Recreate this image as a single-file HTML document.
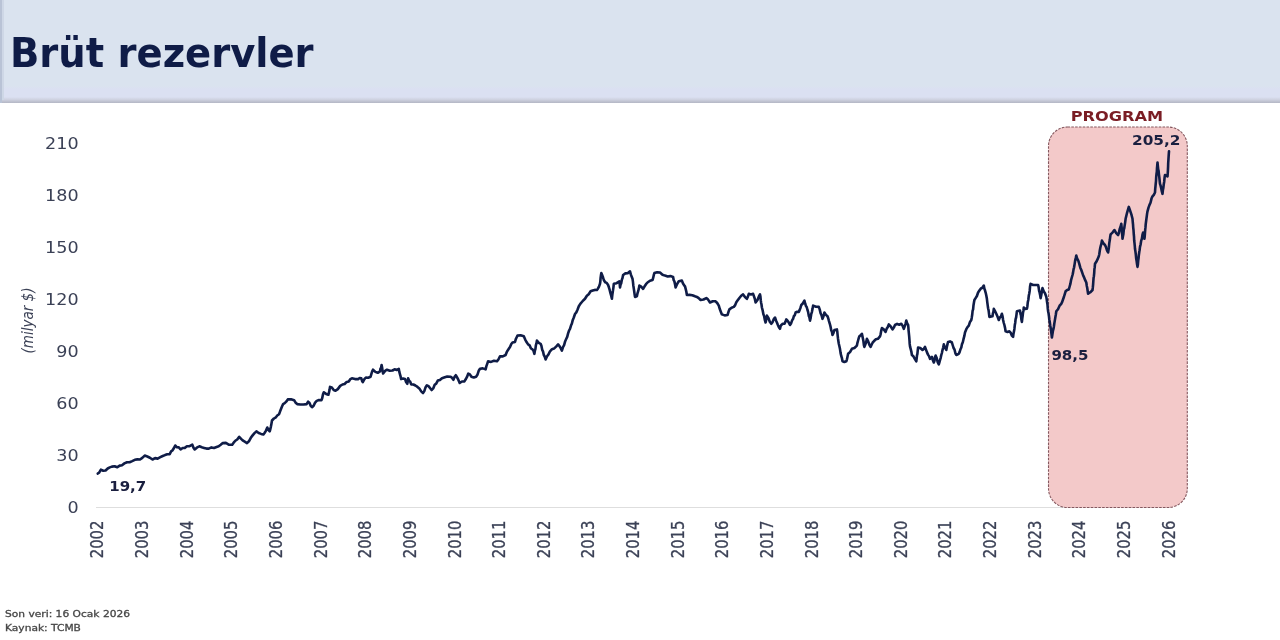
<!DOCTYPE html>
<html lang="tr">
<head>
<meta charset="utf-8">
<title>Brüt rezervler</title>
<style>
html,body{margin:0;padding:0;background:#fff;}
body{width:1280px;height:640px;overflow:hidden;position:relative;font-family:"DejaVu Sans","Liberation Sans",sans-serif;}
#hdr{position:absolute;left:0;top:0;width:1280px;height:103px;background:linear-gradient(to bottom,#dae3ef 0px,#dae3ef 86px,#dbe0f2 89px,#dbe0f2 97px,#cfd2e1 99.5px,#bfc2d0 101.5px,#b4b7c5 103px);}
#hdr:before{content:"";position:absolute;left:0;top:0;width:2px;height:103px;background:#b9c3d6;}
#hdr:after{content:"";position:absolute;left:2px;top:0;width:2px;height:100px;background:#ced7e6;}
#title{position:absolute;left:9.8px;top:22.8px;margin:0;font-weight:bold;font-size:41px;line-height:60px;color:#0f1c47;white-space:nowrap;transform-origin:0 0;transform:scaleX(0.939);letter-spacing:0px;}
svg{position:absolute;left:0;top:0;}
.yl{font-family:"DejaVu Sans","Liberation Sans",sans-serif;font-size:16.2px;fill:#3b4156;}
.xl{font-family:"DejaVu Sans","Liberation Sans",sans-serif;font-size:17.5px;fill:#3b4156;stroke:#3b4156;stroke-width:0.3px;}
.dl{font-family:"DejaVu Sans","Liberation Sans",sans-serif;font-weight:bold;font-size:14.6px;fill:#1a1f3f;}
.pg{font-family:"DejaVu Sans","Liberation Sans",sans-serif;font-weight:bold;font-size:14.6px;fill:#7a1d24;}
.ft{font-family:"DejaVu Sans","Liberation Sans",sans-serif;font-size:9px;fill:#474747;stroke:#474747;stroke-width:0.3px;}
.yt{font-family:"DejaVu Sans","Liberation Sans",sans-serif;font-style:italic;font-size:13.5px;fill:#3b4156;}
</style>
</head>
<body>
<div id="hdr"></div>
<h1 id="title">Brüt rezervler</h1>
<svg width="1280" height="640" viewBox="0 0 1280 640">
<line x1="96" y1="507.5" x2="1170" y2="507.5" stroke="#dedede" stroke-width="1.2"/>
<rect x="1048.5" y="127" width="138.8" height="380.5" rx="19" ry="19" fill="#f3c9c9" stroke="#85585f" stroke-width="1.1" stroke-dasharray="2.6 1.2"/>
<text transform="translate(78.6,513.4) scale(1.085,1)" text-anchor="end" class="yl">0</text>
<text transform="translate(78.6,461.3) scale(1.085,1)" text-anchor="end" class="yl">30</text>
<text transform="translate(78.6,409.3) scale(1.085,1)" text-anchor="end" class="yl">60</text>
<text transform="translate(78.6,357.2) scale(1.085,1)" text-anchor="end" class="yl">90</text>
<text transform="translate(78.6,305.1) scale(1.085,1)" text-anchor="end" class="yl">120</text>
<text transform="translate(78.6,253.0) scale(1.085,1)" text-anchor="end" class="yl">150</text>
<text transform="translate(78.6,201.0) scale(1.085,1)" text-anchor="end" class="yl">180</text>
<text transform="translate(78.6,148.9) scale(1.085,1)" text-anchor="end" class="yl">210</text>

<text transform="translate(103.4,558.3) rotate(-90) scale(0.85,1)" class="xl">2002</text>
<text transform="translate(148.0,558.3) rotate(-90) scale(0.85,1)" class="xl">2003</text>
<text transform="translate(192.7,558.3) rotate(-90) scale(0.85,1)" class="xl">2004</text>
<text transform="translate(237.3,558.3) rotate(-90) scale(0.85,1)" class="xl">2005</text>
<text transform="translate(281.9,558.3) rotate(-90) scale(0.85,1)" class="xl">2006</text>
<text transform="translate(326.6,558.3) rotate(-90) scale(0.85,1)" class="xl">2007</text>
<text transform="translate(371.2,558.3) rotate(-90) scale(0.85,1)" class="xl">2008</text>
<text transform="translate(415.8,558.3) rotate(-90) scale(0.85,1)" class="xl">2009</text>
<text transform="translate(460.5,558.3) rotate(-90) scale(0.85,1)" class="xl">2010</text>
<text transform="translate(505.1,558.3) rotate(-90) scale(0.85,1)" class="xl">2011</text>
<text transform="translate(549.7,558.3) rotate(-90) scale(0.85,1)" class="xl">2012</text>
<text transform="translate(594.4,558.3) rotate(-90) scale(0.85,1)" class="xl">2013</text>
<text transform="translate(639.0,558.3) rotate(-90) scale(0.85,1)" class="xl">2014</text>
<text transform="translate(683.6,558.3) rotate(-90) scale(0.85,1)" class="xl">2015</text>
<text transform="translate(728.3,558.3) rotate(-90) scale(0.85,1)" class="xl">2016</text>
<text transform="translate(772.9,558.3) rotate(-90) scale(0.85,1)" class="xl">2017</text>
<text transform="translate(817.5,558.3) rotate(-90) scale(0.85,1)" class="xl">2018</text>
<text transform="translate(862.2,558.3) rotate(-90) scale(0.85,1)" class="xl">2019</text>
<text transform="translate(906.8,558.3) rotate(-90) scale(0.85,1)" class="xl">2020</text>
<text transform="translate(951.4,558.3) rotate(-90) scale(0.85,1)" class="xl">2021</text>
<text transform="translate(996.1,558.3) rotate(-90) scale(0.85,1)" class="xl">2022</text>
<text transform="translate(1040.7,558.3) rotate(-90) scale(0.85,1)" class="xl">2023</text>
<text transform="translate(1085.3,558.3) rotate(-90) scale(0.85,1)" class="xl">2024</text>
<text transform="translate(1130.0,558.3) rotate(-90) scale(0.85,1)" class="xl">2025</text>
<text transform="translate(1174.6,558.3) rotate(-90) scale(0.85,1)" class="xl">2026</text>

<text transform="translate(32.5,353.4) rotate(-90) scale(1,1.18)" class="yt">(milyar $)</text>
<polyline points="97.8,473.6 99.3,472.4 100.9,469.7 103.2,470.7 105.6,470.5 107.7,468.5 109.8,467.4 111.9,466.6 114.6,466.2 117.3,467.3 119.7,465.6 122.0,465.2 124.4,463.4 127.0,462.2 129.6,462.2 132.2,461.1 134.8,459.8 137.4,459.4 140.0,459.5 142.3,457.9 144.7,455.6 147.3,456.5 149.9,457.7 152.5,459.5 155.1,458.1 157.7,458.6 160.3,457.2 162.7,456.0 165.0,455.1 167.3,454.3 169.7,454.1 171.1,451.4 172.4,450.5 173.8,448.3 175.2,445.5 177.0,447.3 178.8,447.4 180.6,449.4 182.7,448.0 184.8,447.9 186.9,446.3 189.6,446.2 192.3,444.7 193.5,447.7 194.7,449.4 197.1,447.4 199.4,446.3 201.8,447.3 204.1,447.9 206.5,448.6 208.8,448.6 211.4,447.4 214.0,448.0 216.6,447.0 218.7,446.3 220.7,444.8 222.8,443.1 225.9,442.9 229.1,444.8 232.2,444.7 233.8,442.4 235.3,440.8 237.2,439.5 239.2,436.9 241.1,438.9 243.1,440.7 245.1,441.9 247.0,443.1 248.9,441.3 250.8,437.8 252.6,435.4 254.5,433.1 256.4,431.4 258.7,433.0 261.1,433.9 263.4,434.5 264.7,432.7 266.0,430.6 267.3,427.5 268.5,430.2 269.7,431.4 270.3,429.3 270.9,426.6 271.4,424.0 272.0,420.5 273.9,418.5 275.9,417.3 277.5,415.3 279.1,414.2 280.1,411.3 281.1,408.7 282.1,406.2 283.1,404.1 284.7,403.2 286.2,401.7 287.8,399.4 291.0,399.2 294.1,400.2 295.6,402.7 297.2,404.1 300.3,404.5 303.5,404.5 306.6,404.1 308.1,401.7 309.4,402.7 310.7,405.8 312.0,407.2 313.6,405.7 315.1,402.6 316.7,400.9 319.0,400.0 321.4,400.2 322.2,398.2 323.0,394.2 323.8,392.3 326.1,393.9 328.4,394.7 328.9,392.9 329.5,390.1 330.0,386.9 331.8,387.5 333.7,390.1 335.5,390.8 337.8,389.1 340.2,385.9 342.5,384.5 344.6,384.0 346.7,381.9 348.8,381.4 350.4,379.1 351.9,378.3 355.0,379.1 358.1,379.1 359.7,378.0 361.3,378.3 362.1,381.0 362.8,382.2 364.4,379.2 365.9,377.5 368.2,377.7 370.6,376.7 371.4,373.9 372.2,371.4 373.0,369.7 375.4,371.9 377.7,372.8 380.0,371.3 380.5,368.5 381.1,367.8 381.6,365.0 382.1,367.4 382.6,371.2 383.1,373.6 385.1,370.9 387.0,369.7 389.8,370.7 392.5,370.5 394.6,369.3 396.7,370.0 398.8,368.9 399.4,372.2 400.0,374.4 400.5,376.1 401.1,379.1 403.1,378.6 405.0,379.1 406.1,382.1 407.3,383.8 407.7,380.5 408.1,378.3 409.2,381.1 410.2,381.7 411.3,384.5 413.4,384.5 415.4,385.5 417.5,386.9 419.3,388.4 421.2,391.4 423.0,393.1 424.3,391.1 425.6,387.2 426.9,385.3 428.5,386.1 430.0,388.0 431.6,390.0 433.2,388.4 434.7,384.7 436.2,383.6 437.8,380.6 439.9,380.0 442.0,378.2 444.1,377.5 447.2,376.5 450.3,376.7 451.9,377.7 453.4,379.8 454.6,376.8 455.8,375.2 457.1,377.4 458.4,379.9 459.7,383.0 462.0,381.5 464.4,381.4 465.7,379.3 467.0,376.9 468.3,373.6 469.9,374.4 471.4,376.7 473.8,377.5 476.1,376.7 477.4,374.8 478.7,370.8 480.0,368.8 482.8,368.4 485.6,369.4 486.4,366.1 487.3,363.6 488.1,361.3 491.0,361.9 494.0,360.7 496.9,361.3 498.4,359.5 500.0,356.3 502.8,356.4 505.6,355.0 506.7,352.2 507.7,350.4 508.8,348.8 510.0,347.1 511.3,344.0 512.5,342.5 515.0,341.9 515.8,339.1 516.7,337.2 517.5,335.6 520.6,335.3 523.8,336.3 525.2,339.6 526.7,342.3 528.1,344.4 529.6,345.4 531.0,348.5 532.5,349.4 533.5,350.9 534.4,353.8 534.9,350.6 535.4,349.1 535.9,345.2 536.4,343.6 536.9,340.6 538.8,342.9 540.6,343.8 541.4,345.8 542.2,349.8 543.0,351.4 543.8,355.0 544.7,356.5 545.6,359.4 547.1,356.2 548.5,354.4 550.0,351.3 552.0,349.2 554.0,348.6 556.1,346.6 558.1,344.4 559.4,346.0 560.6,347.9 561.9,350.6 563.0,347.1 564.1,345.2 565.2,341.2 566.3,338.8 567.2,336.9 568.1,333.4 569.1,330.5 570.0,328.8 571.0,325.6 571.9,323.5 572.8,319.9 573.8,317.5 575.0,314.0 576.3,312.4 577.5,309.8 578.8,306.3 580.3,303.9 581.9,302.0 583.5,300.2 585.0,298.8 586.9,295.7 588.7,294.2 590.6,291.3 592.7,290.5 594.8,289.9 596.9,290.0 597.9,288.7 599.0,286.6 600.0,283.8 600.3,281.8 600.6,277.9 601.0,275.0 601.3,273.1 602.1,274.9 603.0,277.3 603.8,280.0 605.2,282.3 606.7,282.9 608.1,285.0 608.9,287.3 609.6,289.7 610.4,292.9 611.1,295.5 611.9,298.8 612.3,295.0 612.7,292.2 613.0,290.4 613.4,287.6 613.8,283.8 616.6,283.2 619.4,281.3 619.7,283.9 620.0,287.5 620.6,284.5 621.2,283.3 621.9,279.6 622.5,278.0 623.1,275.0 625.4,273.4 627.7,273.3 630.0,271.3 630.8,274.4 631.7,276.7 632.5,278.8 632.9,281.4 633.3,285.2 633.8,288.6 634.2,291.3 634.6,294.3 635.0,296.9 636.9,296.3 637.5,293.3 638.1,291.3 638.8,288.9 639.4,285.6 641.2,286.7 643.1,288.8 644.6,286.3 646.0,284.2 647.5,282.5 650.0,280.7 652.5,280.0 653.1,278.2 653.8,275.0 654.4,273.1 657.2,272.2 660.0,272.5 662.5,274.7 665.0,275.6 667.7,276.5 670.4,276.1 673.1,276.9 673.7,280.2 674.4,281.4 675.0,284.1 675.6,287.5 676.7,285.0 677.7,283.0 678.8,281.3 681.9,280.6 682.9,283.3 684.0,285.1 685.0,286.3 685.6,288.6 686.3,291.5 686.9,295.0 689.6,294.9 692.3,295.2 695.0,296.3 696.9,296.9 698.7,298.1 700.6,300.0 703.5,299.5 706.3,298.1 708.1,299.6 710.0,302.5 712.8,301.2 715.6,301.3 717.2,303.0 718.8,305.6 719.8,309.1 720.9,311.9 721.9,314.4 724.7,315.4 727.5,315.0 728.5,311.8 729.4,309.4 731.6,307.7 733.8,306.9 735.0,305.4 736.3,302.3 737.5,300.6 739.4,298.0 741.2,295.8 743.1,294.4 745.0,297.1 746.9,298.8 747.8,296.9 748.8,293.8 751.0,294.5 753.1,293.8 753.9,296.2 754.8,298.8 755.6,302.5 757.5,300.0 758.8,296.7 760.0,294.4 760.4,296.3 760.8,300.4 761.1,302.7 761.5,304.5 761.9,307.5 762.6,310.1 763.4,314.3 764.1,315.9 764.9,320.2 765.6,322.5 766.0,320.7 766.5,318.4 766.9,315.6 768.4,318.0 769.8,321.7 771.3,323.8 772.5,322.2 773.8,319.1 775.0,317.5 776.0,320.5 776.9,322.5 777.9,325.0 779.0,327.4 780.0,328.8 780.6,326.1 781.3,325.0 782.8,323.7 784.4,323.8 785.3,322.1 786.3,319.4 787.5,320.7 788.8,322.6 790.0,325.0 791.0,323.6 792.1,320.4 793.1,318.8 793.9,316.0 794.8,315.2 795.6,312.5 797.2,311.7 798.8,311.9 799.6,310.1 800.5,307.7 801.3,305.0 802.8,303.5 804.4,300.6 805.2,303.7 806.0,306.1 806.7,307.0 807.5,310.0 808.1,311.9 808.8,315.9 809.4,317.3 810.0,320.6 810.6,318.2 811.2,314.2 811.9,312.1 812.5,309.1 813.1,305.6 816.0,306.8 818.8,306.9 819.7,309.4 820.6,313.3 821.6,315.4 822.5,318.8 823.1,317.3 823.8,315.4 824.4,312.5 826.0,314.9 827.5,316.3 828.3,318.5 829.0,321.1 829.8,323.8 830.6,326.9 831.2,330.1 831.9,331.6 832.5,335.0 833.5,333.0 834.4,330.0 836.9,329.4 837.3,331.8 837.7,335.8 838.0,338.5 838.4,341.3 838.8,343.8 839.4,346.3 840.0,349.1 840.6,353.1 841.3,356.2 841.9,358.0 842.5,361.3 844.4,362.0 846.3,361.3 846.9,359.6 847.5,356.7 848.1,353.8 850.0,352.1 851.9,348.8 854.4,348.0 856.9,345.6 857.5,342.6 858.1,340.5 858.8,337.9 859.4,336.3 860.6,335.4 861.9,333.8 862.4,336.1 862.9,338.6 863.4,341.0 863.9,345.1 864.4,346.9 865.2,344.8 866.1,342.2 866.9,338.8 868.1,341.1 869.4,344.8 870.6,346.9 871.7,344.5 872.7,342.5 873.8,341.3 875.9,339.3 877.9,338.8 880.0,336.3 880.6,334.3 881.3,330.3 881.9,328.1 883.8,329.4 885.6,331.9 886.7,328.6 887.7,327.3 888.8,324.4 890.6,326.3 892.5,329.4 893.8,327.6 895.0,325.0 897.1,323.9 899.2,324.7 901.3,323.8 902.5,325.6 903.8,328.8 904.6,326.6 905.5,323.8 906.3,320.6 907.2,323.5 908.1,325.0 908.4,327.6 908.6,330.6 908.9,333.7 909.2,336.7 909.5,340.6 909.7,343.9 910.0,346.3 910.6,348.6 911.3,351.3 911.9,355.0 913.4,356.3 914.8,358.8 916.3,361.3 916.7,358.0 917.0,355.3 917.4,353.8 917.7,350.9 918.1,347.5 920.3,348.0 922.5,350.0 923.8,348.9 925.0,346.9 926.0,349.6 927.0,352.4 928.0,354.6 929.0,356.1 930.0,358.8 931.9,356.9 932.8,360.1 933.8,362.5 934.4,361.0 935.0,357.3 935.6,355.6 936.7,358.0 937.7,362.2 938.8,364.4 939.4,362.4 940.0,360.1 940.7,357.8 941.3,355.0 941.9,353.0 942.5,350.1 943.2,347.5 943.8,344.4 945.0,347.6 946.3,350.0 946.9,346.7 947.5,344.1 948.1,341.9 950.0,341.4 951.9,342.5 952.8,345.5 953.7,348.3 954.5,349.5 955.4,353.3 956.3,355.0 958.8,353.8 959.6,352.1 960.5,349.2 961.3,347.5 962.0,344.1 962.8,342.3 963.5,339.2 964.3,336.2 965.0,332.5 966.3,329.2 967.5,327.1 968.8,325.7 970.0,321.9 971.3,320.0 971.7,317.9 972.2,314.8 972.6,310.8 973.1,309.3 973.5,305.2 974.0,302.3 974.4,300.0 975.6,298.1 976.9,296.0 978.1,292.5 979.4,290.6 980.9,288.5 982.3,287.8 983.8,285.6 984.4,288.7 985.0,290.3 985.7,292.8 986.3,295.5 986.9,298.8 987.3,302.3 987.7,305.4 988.1,308.3 988.6,310.4 989.0,313.5 989.4,316.9 992.5,316.3 992.9,313.3 993.4,311.8 993.8,308.8 995.0,311.0 996.3,313.8 997.5,316.6 998.8,320.0 999.8,317.5 1000.9,316.6 1001.9,313.8 1002.5,316.0 1003.1,320.0 1003.8,323.0 1004.4,325.0 1005.0,327.6 1005.6,331.3 1007.5,331.9 1009.4,331.3 1010.6,332.6 1011.9,335.7 1013.1,336.9 1013.5,333.7 1013.9,331.7 1014.4,328.9 1014.8,325.1 1015.2,323.0 1015.6,319.1 1016.1,317.5 1016.5,314.6 1016.9,311.3 1020.0,310.6 1020.5,313.8 1021.0,315.5 1021.4,319.5 1021.9,321.9 1022.3,318.3 1022.7,315.5 1023.0,312.6 1023.4,311.0 1023.8,307.5 1025.3,308.9 1026.9,308.8 1027.4,306.2 1027.8,302.1 1028.3,300.0 1028.8,295.6 1029.2,293.8 1029.7,290.7 1030.1,286.2 1030.6,283.8 1033.1,285.0 1035.6,285.0 1038.1,285.0 1038.6,287.1 1039.1,290.8 1039.6,292.5 1040.1,294.9 1040.6,298.1 1041.1,296.0 1041.5,293.8 1042.0,290.2 1042.5,288.1 1043.8,291.5 1045.0,293.2 1046.3,296.9 1046.7,299.3 1047.1,302.2 1047.5,304.8 1047.8,308.9 1048.2,311.7 1048.6,313.6 1049.0,316.5 1049.4,320.0 1049.8,322.2 1050.2,325.2 1050.7,328.2 1051.1,331.1 1051.5,334.2 1051.9,337.5 1052.4,334.2 1052.9,331.0 1053.4,329.2 1053.9,326.5 1054.3,323.6 1054.8,320.6 1055.3,317.6 1055.8,314.8 1056.3,311.3 1058.0,309.2 1059.6,305.7 1061.3,303.8 1062.2,301.9 1063.0,299.5 1063.9,297.0 1064.7,294.3 1065.6,291.3 1067.2,289.9 1068.8,289.4 1069.5,287.0 1070.3,284.2 1071.0,280.4 1071.8,277.5 1072.5,275.0 1073.0,272.9 1073.6,269.1 1074.1,267.3 1074.7,263.6 1075.2,260.3 1075.8,257.9 1076.3,255.6 1077.3,259.0 1078.3,260.7 1079.3,263.9 1080.3,267.7 1081.3,270.0 1082.3,272.9 1083.3,275.8 1084.3,277.9 1085.3,280.4 1086.3,282.5 1086.8,286.0 1087.2,287.7 1087.6,290.5 1088.1,293.8 1090.3,292.3 1092.5,290.0 1092.8,287.7 1093.1,284.6 1093.3,281.7 1093.6,277.7 1093.9,276.2 1094.2,273.1 1094.4,269.2 1094.7,267.4 1095.0,263.8 1096.3,261.8 1097.5,259.4 1098.8,256.3 1099.3,254.2 1099.8,250.5 1100.3,247.8 1100.9,245.3 1101.4,243.7 1101.9,240.6 1103.5,243.5 1105.0,245.0 1106.0,247.1 1107.1,250.6 1108.1,252.5 1108.5,250.0 1108.9,247.2 1109.3,242.9 1109.8,240.1 1110.2,236.8 1110.6,234.4 1112.5,232.6 1114.4,230.0 1116.2,233.1 1118.1,235.0 1118.9,232.8 1119.7,229.0 1120.5,227.0 1121.3,223.8 1121.5,226.0 1121.8,229.1 1122.0,233.2 1122.3,235.1 1122.5,238.8 1122.9,236.5 1123.4,233.9 1123.8,229.6 1124.3,228.0 1124.7,225.1 1125.2,222.1 1125.6,218.8 1126.4,215.5 1127.2,212.3 1128.0,209.5 1128.8,206.9 1129.7,209.5 1130.7,212.4 1131.6,215.2 1132.5,218.8 1132.8,222.5 1133.0,224.2 1133.2,227.3 1133.5,230.0 1133.8,234.5 1134.0,236.3 1134.2,240.5 1134.5,243.2 1134.8,246.2 1135.0,248.8 1135.4,251.3 1135.8,254.4 1136.2,258.5 1136.7,261.5 1137.1,264.5 1137.5,266.9 1137.9,264.5 1138.2,260.8 1138.6,257.9 1138.9,254.7 1139.3,251.8 1139.6,250.2 1140.0,246.9 1140.6,244.5 1141.2,240.6 1141.9,238.8 1142.5,234.6 1143.1,232.5 1143.5,235.4 1144.0,236.1 1144.4,238.8 1144.7,236.7 1144.9,233.8 1145.2,229.8 1145.5,227.2 1145.7,224.4 1146.0,222.0 1146.4,218.8 1146.8,216.0 1147.1,213.6 1147.5,211.3 1148.5,207.6 1149.5,204.9 1150.5,202.7 1151.5,198.6 1152.5,196.3 1153.8,194.8 1155.0,192.5 1155.2,189.1 1155.5,186.1 1155.8,182.8 1156.0,181.1 1156.2,177.1 1156.5,174.0 1156.8,172.0 1157.0,168.0 1157.2,165.9 1157.5,162.5 1157.9,166.3 1158.2,169.3 1158.6,170.9 1158.9,174.1 1159.3,177.2 1159.6,180.2 1160.0,183.8 1160.6,185.6 1161.2,188.2 1161.9,191.7 1162.5,193.8 1162.9,190.1 1163.3,188.2 1163.8,184.0 1164.2,181.7 1164.6,177.3 1165.0,175.0 1167.5,176.3 1167.7,174.0 1167.9,170.7 1168.1,166.4 1168.2,163.0 1168.4,160.1 1168.6,156.8 1168.8,153.9 1169.0,151.3" fill="none" stroke="#0f1c47" stroke-width="2.6" stroke-linejoin="round" stroke-linecap="round"/>
<text transform="translate(109.2,491.3) scale(1.03,1)" class="dl" id="l1">19,7</text>
<text transform="translate(1051.4,360.3) scale(1.03,1)" class="dl" id="l2">98,5</text>
<text transform="translate(1132,145.3) scale(1.05,1)" class="dl" id="l3">205,2</text>
<text transform="translate(1070.7,121.3) scale(1.11,1)" class="pg" id="l4">PROGRAM</text>
<text transform="translate(5,616.5) scale(1.185,1)" class="ft" id="f1">Son veri: 16 Ocak 2026</text>
<text transform="translate(5,630.6) scale(1.185,1)" class="ft" id="f2">Kaynak: TCMB</text>
</svg>
</body>
</html>
